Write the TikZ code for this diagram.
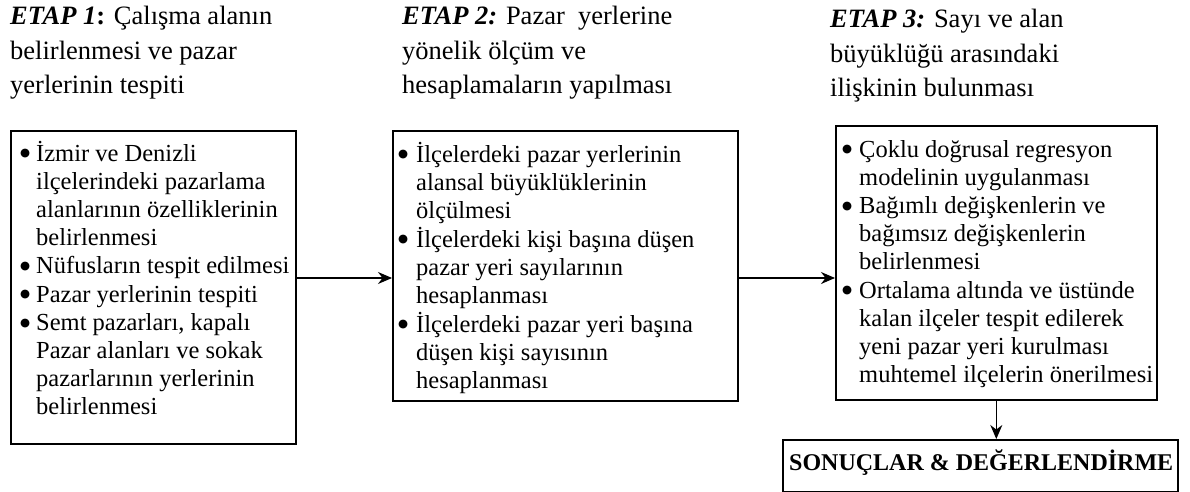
\documentclass[tikz,border=0pt]{standalone}
\usepackage{fontspec}
\setmainfont{Liberation Serif}
\newfontfamily\symfont{DejaVu Sans}
\usetikzlibrary{arrows.meta}
\newcommand{\bl}{\makebox[0pt][l]{\raisebox{4.2pt}{\fontsize{11.5}{12}\symfont ●}}}
\begin{document}
\begin{tikzpicture}[x=1pt,y=-1pt,
  box/.style={draw, line width=1.6pt, anchor=north west, inner sep=0pt},
  body/.style={anchor=base west, inner sep=0pt, font=\fontsize{24.5}{28.2}\selectfont},
  ttl/.style={anchor=base west, inner sep=0pt, font=\fontsize{26.5}{34.5}\selectfont},
  arr/.style={-{Stealth[length=14pt,width=12pt]}, line width=1.4pt}]
\useasboundingbox (0,0) rectangle (1190,492);

% titles
\node[ttl] (t1) at (10,25) {\begin{tabular}[t]{@{}l@{}}\textbf{\textit{ETAP 1}:} Çalışma alanın\\ belirlenmesi ve pazar\\ yerlerinin tespiti\end{tabular}};
\node[ttl] (t2) at (402,25) {\begin{tabular}[t]{@{}l@{}}\textbf{\textit{ETAP 2:\nocorr}} Pazar\ \ yerlerine\\ yönelik ölçüm ve\\ hesaplamaların yapılması\end{tabular}};
\node[ttl] (t3) at (830,28) {\begin{tabular}[t]{@{}l@{}}\textbf{\textit{ETAP 3:\nocorr}} Sayı ve alan\\ büyüklüğü arasındaki\\ ilişkinin bulunması\end{tabular}};

% boxes
\node[box, minimum width=285pt, minimum height=313pt] (b1) at (10,130) {};
\node[box, minimum width=345pt, minimum height=270pt] (b2) at (392,130) {};
\node[box, minimum width=321pt, minimum height=274pt] (b3) at (835,125) {};
\node[box, minimum width=395pt, minimum height=52pt] (b4) at (782,439) {};

% box texts
\node[body] (x1) at (20,161) {\begin{tabular}[t]{@{}p{16pt}@{}l@{}}
\bl & İzmir ve Denizli\\
 & ilçelerindeki pazarlama\\
 & alanlarının özelliklerinin\\
 & belirlenmesi\\
\bl & Nüfusların tespit edilmesi\\
\bl & Pazar yerlerinin tespiti\\
\bl & Semt pazarları, kapalı\\
 & Pazar alanları ve sokak\\
 & pazarlarının yerlerinin\\
 & belirlenmesi
\end{tabular}};
\node[body] (x2) at (398,162) {\begin{tabular}[t]{@{}p{18pt}@{}l@{}}
\bl & İlçelerdeki pazar yerlerinin\\
 & alansal büyüklüklerinin\\
 & ölçülmesi\\
\bl & İlçelerdeki kişi başına düşen\\
 & pazar yeri sayılarının\\
 & hesaplanması\\
\bl & İlçelerdeki pazar yeri başına\\
 & düşen kişi sayısının\\
 & hesaplanması
\end{tabular}};
\node[body] (x3) at (842,157) {\begin{tabular}[t]{@{}p{17pt}@{}l@{}}
\bl & Çoklu doğrusal regresyon\\
 & modelinin uygulanması\\
\bl & Bağımlı değişkenlerin ve\\
 & bağımsız değişkenlerin\\
 & belirlenmesi\\
\bl & Ortalama altında ve üstünde\\
 & kalan ilçeler tespit edilerek\\
 & yeni pazar yeri kurulması\\
 & muhtemel ilçelerin önerilmesi
\end{tabular}};
\node[anchor=base west, inner sep=0pt, font=\fontsize{24}{28}\selectfont\bfseries] (x4) at (789,470) {SONUÇLAR \& DEĞERLENDİRME};

% connectors
\coordinate (m) at (0,278);
\draw[arr] (b1.east |- m) -- (b2.west |- m);
\draw[arr] (b2.east |- m) -- (b3.west |- m);
\draw[arr] (b3.south) -- (b3.south |- b4.north);
\end{tikzpicture}
\end{document}
